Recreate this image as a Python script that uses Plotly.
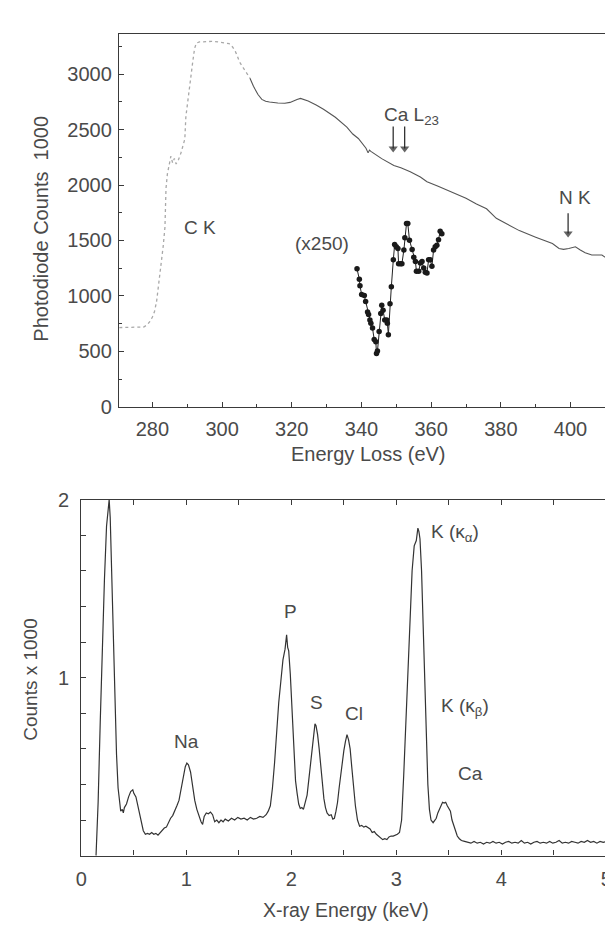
import plotly.graph_objects as go

# ---------------- Top panel: EELS spectrum ----------------
eels_pre_ev = [270.5, 273, 276, 277.5, 278.5, 279.3, 280, 280.6, 281.2, 281.8, 282.5, 283.1,
               283.6, 283.9, 284.3, 284.8, 285.3, 285.8, 286.3, 286.8, 287.5, 288.2, 288.8,
               289.3, 289.6, 290.2, 290.7, 291.2, 291.6, 292.1, 292.6, 293.5, 295, 297, 299,
               300.5, 302, 303, 303.8, 304.4, 305, 306, 307, 308]
eels_pre_counts = [715, 715, 715, 720, 740, 770, 810, 860, 950, 1100, 1270, 1450,
                   1620, 1970, 2100, 2180, 2260, 2200, 2240, 2190, 2230, 2290, 2350,
                   2414, 2616, 2780, 2907, 3030, 3118, 3230, 3280, 3290, 3295, 3295, 3290,
                   3285, 3275, 3245, 3205, 3160, 3110, 3060, 3010, 2963]

eels_ev = [308, 309, 310.3, 311.4, 312.5, 313.6, 316, 318, 319.5, 320.3, 321.5, 322.5,
           323.5, 324.7, 327, 329.1, 332.5, 335.8, 337.5, 339.1, 341.3, 341.9, 342.3,
           342.7, 345.8, 349.3, 351.3, 354, 356.9, 358.8, 362, 366.4, 370, 373, 375.9,
           378.7, 381, 385.3, 390, 394.8, 396.7, 398, 399.5, 401.4, 402.8, 404.2, 406.1,
           409, 411.8, 414.2]
eels_counts = [2963, 2890, 2816, 2772, 2755, 2748, 2740, 2737, 2745, 2757, 2772, 2781,
               2770, 2757, 2722, 2684, 2611, 2523, 2460, 2420, 2332, 2290, 2315,
               2303, 2238, 2176, 2155, 2120, 2073, 2030, 1990, 1930, 1880, 1830, 1786,
               1700, 1660, 1589, 1530, 1472, 1428, 1420, 1428, 1443, 1415, 1390, 1369,
               1369, 1311, 1267]

# Magnified (x250) trace
inset_ev = [338.72, 339.39, 339.57, 340.05, 340.81, 341.19, 341.75, 342.04, 342.42, 342.70,
            343.17, 343.65, 344.12, 344.31, 344.59, 345.07, 345.54, 345.82, 346.20, 346.68,
            347.24, 347.43, 347.72, 348.19, 348.57, 349.14, 349.52, 349.99, 350.46, 350.65,
            351.22, 351.60, 352.17, 352.45, 352.93, 353.30, 353.78, 354.54, 355.01, 355.48,
            355.77, 356.43, 356.90, 357.38, 357.85, 358.32, 358.80, 359.27, 359.74, 360.22,
            360.69, 361.17, 361.64, 362.11, 362.59, 363.07]
inset_counts = [1246, 1150, 1091, 1012, 1003, 950, 856, 833, 783, 754,
                710, 607, 586, 481, 504, 680, 842, 915, 871, 783,
                783, 754, 651, 930, 1082, 1326, 1463, 1443, 1428, 1290,
                1290, 1290, 1414, 1525, 1654, 1654, 1502, 1419, 1349, 1311,
                1223, 1223, 1296, 1311, 1252, 1214, 1208, 1326, 1326, 1267,
                1414, 1443, 1458, 1507, 1584, 1560]

# Edge-marker arrows (energy, tail value, head value)
ca_arrow_ev = [349.1, 352.4]
ca_arrow_tail = 2528
ca_arrow_head = 2330
nk_arrow_ev = 399.3
nk_arrow_tail = 1745
nk_arrow_head = 1562

# ---------------- Bottom panel: X-ray spectrum ----------------
xray_kev = [0.14, 0.16, 0.18, 0.20, 0.22, 0.24, 0.255, 0.265, 0.275, 0.28, 0.29, 0.30, 0.31,
            0.32, 0.335, 0.35, 0.365, 0.375, 0.39, 0.40, 0.41, 0.43, 0.45, 0.47, 0.49, 0.50,
            0.52, 0.54, 0.56, 0.575, 0.59, 0.61, 0.63, 0.65, 0.67, 0.69, 0.71, 0.73, 0.75,
            0.77, 0.79, 0.81, 0.83, 0.85, 0.87, 0.89, 0.91, 0.93, 0.95, 0.97, 0.99, 1.005,
            1.02, 1.04, 1.06, 1.08, 1.10, 1.12, 1.14, 1.155, 1.17, 1.19, 1.21, 1.23, 1.25,
            1.27, 1.29, 1.31, 1.33, 1.35, 1.37, 1.40, 1.43, 1.46, 1.49, 1.52, 1.55, 1.58,
            1.61, 1.64, 1.67, 1.70, 1.73, 1.76, 1.78, 1.80, 1.82, 1.84, 1.86, 1.88, 1.90,
            1.92, 1.94, 1.955, 1.965, 1.975, 1.99, 2.005, 2.02, 2.035, 2.04, 2.055, 2.07,
            2.085, 2.10, 2.115, 2.13, 2.15, 2.165, 2.18, 2.195, 2.21, 2.225, 2.235, 2.25,
            2.265, 2.28, 2.295, 2.31, 2.325, 2.34, 2.36, 2.38, 2.395, 2.41, 2.425, 2.44,
            2.455, 2.47, 2.485, 2.50, 2.515, 2.53, 2.545, 2.56, 2.575, 2.59, 2.61, 2.63,
            2.65, 2.67, 2.69, 2.71, 2.73, 2.75, 2.77, 2.79, 2.81, 2.83, 2.85, 2.87, 2.89,
            2.91, 2.93, 2.95, 2.97, 2.99, 3.01, 3.03, 3.05, 3.07, 3.09, 3.11, 3.13, 3.15,
            3.17, 3.19, 3.205, 3.215, 3.225, 3.24, 3.255, 3.27, 3.285, 3.30, 3.315, 3.33,
            3.35, 3.365, 3.38, 3.395, 3.41, 3.425, 3.44, 3.455, 3.47, 3.485, 3.50, 3.515,
            3.53, 3.545, 3.56, 3.58, 3.60, 3.62, 3.65, 3.68, 3.71, 3.74, 3.77, 3.80, 3.83,
            3.86, 3.89, 3.92, 3.95, 3.98, 4.01, 4.04, 4.07, 4.10, 4.13, 4.16, 4.19, 4.22,
            4.25, 4.28, 4.31, 4.34, 4.37, 4.40, 4.43, 4.46, 4.49, 4.52, 4.55, 4.58, 4.61,
            4.64, 4.67, 4.70, 4.73, 4.76, 4.79, 4.82, 4.85, 4.88, 4.91, 4.94, 4.97, 5.00,
            5.03, 5.06, 5.09, 5.12, 5.14]
xray_counts = [0.00, 0.30, 0.75, 1.20, 1.55, 1.85, 1.97, 2.00, 1.90, 1.78, 1.65, 1.40, 1.10,
               0.85, 0.57, 0.38, 0.28, 0.25, 0.26, 0.24, 0.27, 0.29, 0.33, 0.36, 0.37, 0.35,
               0.33, 0.28, 0.22, 0.185, 0.14, 0.12, 0.125, 0.12, 0.13, 0.12, 0.125, 0.115, 0.13,
               0.14, 0.155, 0.16, 0.19, 0.21, 0.225, 0.25, 0.28, 0.31, 0.37, 0.44, 0.50, 0.52,
               0.51, 0.47, 0.38, 0.31, 0.26, 0.22, 0.19, 0.175, 0.22, 0.24, 0.235, 0.245, 0.23,
               0.19, 0.20, 0.185, 0.20, 0.19, 0.205, 0.195, 0.21, 0.20, 0.215, 0.205, 0.21, 0.20,
               0.215, 0.205, 0.21, 0.22, 0.215, 0.23, 0.25, 0.28, 0.38, 0.52, 0.70, 0.86, 0.98,
               1.10, 1.16, 1.24, 1.17, 1.15, 1.02, 0.86, 0.66, 0.48, 0.42, 0.35, 0.29,
               0.265, 0.27, 0.26, 0.30, 0.34, 0.42, 0.50, 0.59, 0.66, 0.74, 0.73, 0.68,
               0.60, 0.50, 0.40, 0.32, 0.27, 0.24, 0.225, 0.23, 0.205, 0.21, 0.25, 0.30,
               0.38, 0.46, 0.53, 0.59, 0.64, 0.68, 0.65, 0.60, 0.50, 0.40, 0.28, 0.20,
               0.165, 0.17, 0.16, 0.165, 0.155, 0.15, 0.13, 0.135, 0.12, 0.11, 0.10, 0.09, 0.095,
               0.09, 0.105, 0.11, 0.11, 0.115, 0.12, 0.13, 0.20, 0.45, 0.72, 1.05, 1.35, 1.60,
               1.74, 1.77, 1.84, 1.82, 1.78, 1.60, 1.30, 0.95, 0.65, 0.40, 0.26, 0.20,
               0.185, 0.195, 0.21, 0.24, 0.26, 0.28, 0.30, 0.295, 0.30, 0.28, 0.26, 0.25,
               0.20, 0.17, 0.14, 0.11, 0.095, 0.085, 0.08, 0.075, 0.07, 0.08, 0.07, 0.075, 0.065,
               0.075, 0.07, 0.08, 0.07, 0.075, 0.065, 0.075, 0.08, 0.07, 0.075, 0.07, 0.085, 0.07,
               0.075, 0.065, 0.075, 0.08, 0.07, 0.075, 0.07, 0.08, 0.07, 0.075, 0.085, 0.07, 0.075,
               0.07, 0.08, 0.075, 0.07, 0.08, 0.075, 0.085, 0.075, 0.08, 0.07, 0.08, 0.075, 0.08,
               0.07, 0.08, 0.075, 0.08, 0.075]

FONT = "Liberation Sans, Arial, Helvetica, sans-serif"
TXT = "#4a4a4a"
AX = "#3a3a3a"

fig = go.Figure()
fig.add_trace(go.Scatter(x=eels_pre_ev, y=eels_pre_counts, mode="lines",
                         line=dict(color="#a8a8a8", width=1.3, dash="dot"),
                         xaxis="x", yaxis="y", hoverinfo="skip"))
fig.add_trace(go.Scatter(x=eels_ev, y=eels_counts, mode="lines",
                         line=dict(color="#555555", width=1.1),
                         xaxis="x", yaxis="y", hoverinfo="skip"))
fig.add_trace(go.Scatter(x=inset_ev, y=inset_counts, mode="lines+markers",
                         line=dict(color="#222222", width=1),
                         marker=dict(color="#1a1a1a", size=5.5),
                         xaxis="x", yaxis="y", hoverinfo="skip"))
fig.add_trace(go.Scatter(x=xray_kev, y=xray_counts, mode="lines",
                         line=dict(color="#333333", width=1.2),
                         xaxis="x2", yaxis="y2", hoverinfo="skip"))

# arrows drawn as short lines with a triangle head
for ev in ca_arrow_ev + [nk_arrow_ev]:
    tail = ca_arrow_tail if ev in ca_arrow_ev else nk_arrow_tail
    head = ca_arrow_head if ev in ca_arrow_ev else nk_arrow_head
    fig.add_trace(go.Scatter(x=[ev, ev], y=[tail, head], mode="lines+markers",
                             line=dict(color="#222222", width=1.2),
                             marker=dict(symbol="triangle-down", size=[0, 8], color="#222222",
                                         line=dict(width=0)),
                             xaxis="x", yaxis="y", hoverinfo="skip"))

common = dict(showline=True, linecolor=AX, linewidth=1.3, showgrid=False, zeroline=False,
              ticks="inside", tickcolor=AX, tickwidth=1, ticklen=5,
              tickfont=dict(family=FONT, size=20, color=TXT))

fig.update_layout(
    width=613, height=926,
    margin=dict(l=0, r=0, t=0, b=0),
    paper_bgcolor="white", plot_bgcolor="white",
    showlegend=False,
    xaxis=dict(domain=[106 / 613, 612 / 613], range=[270.4, 414.2], anchor="y",
               tickmode="linear", tick0=280, dtick=20, mirror=True,
               minor=dict(ticks="inside", ticklen=3, tickcolor=AX, tickmode="linear", tick0=270, dtick=10),
               ticklabelstandoff=4, **common),
    yaxis=dict(domain=[1 - 397.3 / 926, 1 - 15 / 926], range=[0, 3365], anchor="x",
               tickmode="linear", tick0=0, dtick=500, mirror="ticks",
               minor=dict(ticks="inside", ticklen=3, tickcolor=AX, tickmode="linear", tick0=0, dtick=250),
               ticklabelstandoff=2, **common),
    xaxis2=dict(domain=[68 / 613, 612 / 613], range=[0, 5.13], anchor="y2",
                tickmode="linear", tick0=0, dtick=1, mirror="ticks",
                minor=dict(ticks="inside", ticklen=5, tickcolor=AX, tickmode="linear", tick0=0, dtick=0.5),
                ticklabelstandoff=5, **common),
    yaxis2=dict(domain=[1 - 857 / 926, 1 - 492.3 / 926], range=[0, 2.0], anchor="x2",
                tickmode="array", tickvals=[1, 2], mirror="ticks",
                minor=dict(ticks="inside", ticklen=5, tickcolor=AX, tickmode="linear", tick0=0, dtick=0.2),
                ticklabelstandoff=7, **common),
)

def txt(s, x, y, xref="x", yref="y", size=19, angle=0, xanchor="center"):
    fig.add_annotation(text=s, x=x, y=y, xref=xref, yref=yref, showarrow=False,
                       font=dict(family=FONT, size=size, color=TXT), textangle=angle,
                       xanchor=xanchor, yanchor="middle")

# axis titles
txt("Photodiode Counts\u00a0\u00a01000", 27 / 613, 1 - 215 / 926, "paper", "paper", size=20, angle=-90)
txt("Energy Loss (eV)", 358 / 613, 1 - 446 / 926, "paper", "paper", size=20)
txt("Counts x 1000", 17 / 613, 1 - 676 / 926, "paper", "paper", size=19, angle=-90)
txt("X-ray Energy (keV)", 335 / 613, 1 - 913 / 926, "paper", "paper", size=19.5)

# top panel labels
txt("C K", 293.6, 1619)
txt("(x250)", 328.8, 1472)
txt("Ca L<sub>23</sub>", 354.3, 2625)
txt("N K", 401.2, 1886)

# bottom panel labels
txt("Na", 1.0, 0.64, "x2", "y2")
txt("P", 1.995, 1.37, "x2", "y2")
txt("S", 2.24, 0.86, "x2", "y2")
txt("Cl", 2.60, 0.796, "x2", "y2")
txt("K (\u03ba<sub>\u03b1</sub>)", 3.307, 1.81, "x2", "y2", xanchor="left")
txt("K (\u03ba<sub>\u03b2</sub>)", 3.404, 0.833, "x2", "y2", xanchor="left")
txt("Ca", 3.71, 0.459, "x2", "y2")

fig.write_html("out.html")
